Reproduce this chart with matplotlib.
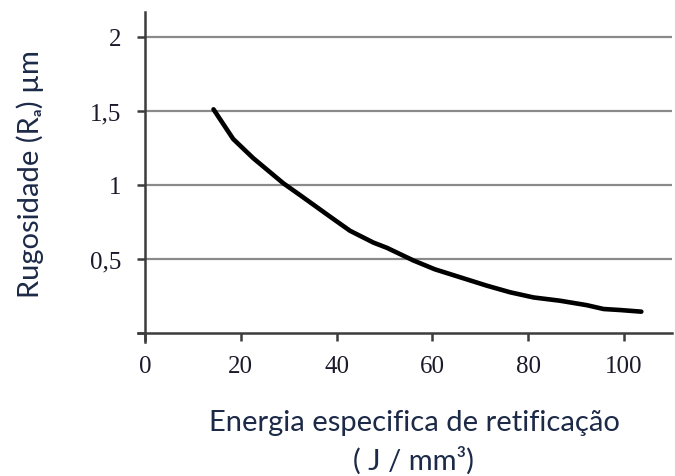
import matplotlib
matplotlib.use("Agg")
from matplotlib import pyplot as plt

# energia especifica (J/mm3) vs rugosidade Ra (um)
energia = [14.3, 18.4, 22.6, 28.9, 32.4, 39.3, 42.8, 47.7, 50.5, 56.0,
           60.5, 65.8, 71.3, 76.2, 81.1, 86.6, 92.2, 95.7, 99.2, 103.6]
rugosidade = [1.51, 1.31, 1.18, 1.01, 0.93, 0.77, 0.69, 0.61, 0.575, 0.49,
              0.43, 0.376, 0.32, 0.275, 0.24, 0.218, 0.188, 0.162, 0.155, 0.144]

xticks = [0, 20, 40, 60, 80, 100]
yticks = [0, 0.5, 1, 1.5, 2]
ytick_labels = ["", "0,5", "1", "1,5", "2"]

fig = plt.figure(figsize=(6.75, 4.77), dpi=100)
ax = fig.add_axes([145/675, 1 - 334/477, 527/675, 321/477])

ax.plot(energia, rugosidade, color="black", lw=3.3, solid_capstyle="round",
        solid_joinstyle="round", zorder=3)

ax.set_xlim(0, 110)
ax.set_ylim(0, 2.167)
ax.set_xticks(xticks)
ax.set_yticks(yticks)
ax.set_yticklabels(ytick_labels)

for y in yticks[1:]:
    ax.axhline(y, color="#8a8a8a", lw=1.6, zorder=1)

for s in ["top", "right"]:
    ax.spines[s].set_visible(False)
for s in ["left", "bottom"]:
    ax.spines[s].set_color("#3c3c3c")
    ax.spines[s].set_linewidth(1.8)
ax.spines["left"].set_bounds(-0.06, 2.167)
ax.spines["bottom"].set_bounds(-1.5, 110)

ax.tick_params(axis="both", direction="out", length=6, width=1.8, color="#3c3c3c",
               labelsize=18, labelcolor="#1a1a2a")
ax.tick_params(axis="y", pad=11)
ax.tick_params(axis="x", pad=10)
for lab in ax.get_xticklabels() + ax.get_yticklabels():
    lab.set_family("Liberation Serif")

fig.text(30/675, 1 - 174/477, "Rugosidade (R\u2090) \u00b5m", rotation=90,
         ha="center", va="center", fontsize=21, color="#1c2a48",
         family=["Lato", "DejaVu Sans"])
fig.text(414/675, 1 - 423/477, "Energia especifica de retificação",
         ha="center", va="center", fontsize=21, color="#1c2a48",
         family=["Lato", "DejaVu Sans"])
fig.text(414/675, 1 - 461/477, "( J / mm\u00b3)",
         ha="center", va="center", fontsize=21, color="#1c2a48",
         family=["Lato", "DejaVu Sans"])

fig.savefig("out.png", dpi=100)
